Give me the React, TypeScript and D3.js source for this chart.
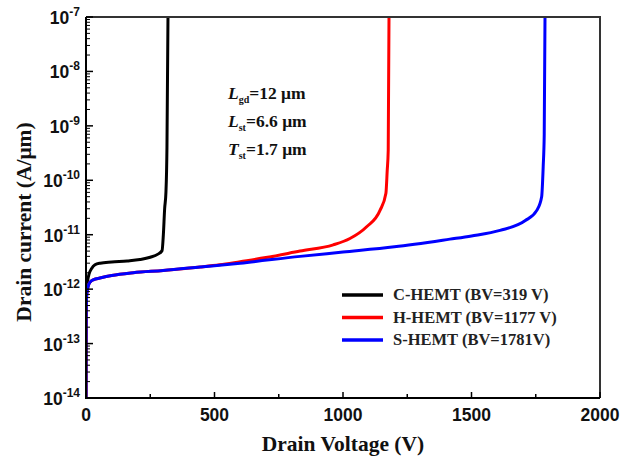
import React from "react";
import * as d3 from "d3";

const cV = [0, 0.6, 2, 6, 12, 22, 35, 55, 100, 160, 210, 250, 280, 296, 301, 306, 311, 315, 319];
const cI = [1e-14, 3e-13, 9e-13, 1.4e-12, 1.9e-12, 2.4e-12, 2.8e-12, 3.0e-12, 3.15e-12, 3.3e-12, 3.5e-12, 3.85e-12, 4.4e-12, 5.1e-12, 1e-11, 3e-11, 6e-11, 4e-10, 1e-7];

const hV = [0, 0.3, 1, 3, 8, 16, 30, 54, 100, 184, 300, 444, 520, 600, 700, 833, 962, 1027, 1092, 1144, 1167, 1172, 1176, 1179];
const hI = [1e-14, 1e-13, 4e-13, 8e-13, 1.1e-12, 1.35e-12, 1.5e-12, 1.6e-12, 1.78e-12, 2.0e-12, 2.2e-12, 2.55e-12, 2.8e-12, 3.2e-12, 3.8e-12, 5.0e-12, 6.5e-12, 8.5e-12, 1.4e-11, 2.8e-11, 5.8e-11, 1.5e-10, 3.6e-10, 1e-7];

const sV = [0, 0.3, 1, 3, 8, 16, 30, 54, 100, 184, 300, 444, 600, 833, 1000, 1200, 1416, 1500, 1611, 1708, 1754, 1773, 1779, 1783, 1786];
const sI = [1e-14, 1e-13, 4e-13, 8e-13, 1.1e-12, 1.35e-12, 1.5e-12, 1.6e-12, 1.78e-12, 2.0e-12, 2.2e-12, 2.55e-12, 3.0e-12, 4.0e-12, 4.8e-12, 6.0e-12, 8.3e-12, 9.5e-12, 1.2e-11, 1.8e-11, 2.8e-11, 5e-11, 1.8e-10, 7e-10, 1e-7];

const seriesNames = ["C-HEMT (BV=319 V)", "H-HEMT (BV=1177 V)", "S-HEMT (BV=1781V)"];
const seriesColors = ["#000000", "#ff0000", "#0000ff"];

const xTicks = [0, 500, 1000, 1500, 2000];
const xMinor = [250, 750, 1250, 1750];
const yExps = [-7, -8, -9, -10, -11, -12, -13, -14];

const W = 638, H = 462;
const L = 86, R = 600, T = 17, B = 398;

export default function App() {
  const x = d3.scaleLinear().domain([0, 2000]).range([L, R]);
  const y = d3.scaleLog().domain([1e-14, 1e-7]).range([B, T]);
  const line = d3
    .line<[number, number]>()
    .x((d) => x(d[0]))
    .y((d) => y(d[1]))
    .curve(d3.curveMonotoneX);

  const series = [
    cV.map((v, i) => [v, cI[i]] as [number, number]),
    hV.map((v, i) => [v, hI[i]] as [number, number]),
    sV.map((v, i) => [v, sI[i]] as [number, number]),
  ];

  const minorY: number[] = [];
  for (let e = -14; e < -7; e++) {
    for (let m = 2; m <= 9; m++) minorY.push(m * Math.pow(10, e));
  }

  const tickFont = "'Liberation Sans', Arial, sans-serif";
  const serif = "'Liberation Serif', 'Times New Roman', serif";

  return (
    <svg width={W} height={H} style={{ position: "absolute", left: 0, top: 0, background: "#fff" }}>
      <defs>
        <clipPath id="plot">
          <rect x={L} y={T} width={R - L} height={B - T} />
        </clipPath>
      </defs>
      <rect x={0} y={0} width={W} height={H} fill="#fff" />

      {/* curves */}
      <g clipPath="url(#plot)" fill="none" strokeWidth={3} strokeLinejoin="round">
        {series.map((s, i) => (
          <path key={i} d={line(s) || ""} stroke={seriesColors[i]} />
        ))}
      </g>

      {/* frame */}
      <path d={`M${L},${T}H${R}V${B}`} fill="none" stroke="#333" strokeWidth={2} />
      <path d={`M${L},${T}V${B}H${R}`} fill="none" stroke="#000" strokeWidth={2} />

      {/* y ticks */}
      {yExps.map((e) => (
        <line key={"ym" + e} x1={L} x2={L + 7} y1={y(Math.pow(10, e))} y2={y(Math.pow(10, e))} stroke="#000" strokeWidth={1.5} />
      ))}
      {minorY.map((v, i) => (
        <line key={"yn" + i} x1={L} x2={L + 4} y1={y(v)} y2={y(v)} stroke="#000" strokeWidth={1} />
      ))}
      {yExps.map((e) => (
        <text key={"yl" + e} x={80} y={y(Math.pow(10, e)) + 7} textAnchor="end" fontFamily={tickFont} fontWeight="bold" fontSize={17.5} fill="#111">
          <tspan>10</tspan>
          <tspan dy={-8} fontSize={12}>{e}</tspan>
        </text>
      ))}

      {/* x ticks */}
      {xTicks.map((v) => (
        <line key={"xm" + v} x1={x(v)} x2={x(v)} y1={B} y2={B - 6} stroke="#000" strokeWidth={1.5} />
      ))}
      {xMinor.map((v) => (
        <line key={"xn" + v} x1={x(v)} x2={x(v)} y1={B} y2={B - 4} stroke="#000" strokeWidth={1.5} />
      ))}
      {xTicks.map((v) => (
        <text key={"xl" + v} x={x(v)} y={421} textAnchor="middle" fontFamily={tickFont} fontWeight="bold" fontSize={17.5} fill="#111">
          {v}
        </text>
      ))}

      {/* axis titles */}
      <text x={343} y={451} textAnchor="middle" fontFamily={serif} fontWeight="bold" fontSize={21.5} fill="#111">
        Drain Voltage (V)
      </text>
      <text transform={`translate(31,222) rotate(-90)`} textAnchor="middle" fontFamily={serif} fontWeight="bold" fontSize={21.5} fill="#111">
        Drain current (A/μm)
      </text>

      {/* annotation */}
      <g fontFamily={serif} fontWeight="bold" fontSize={17.5} fill="#111">
        <text x={228} y={99}>
          <tspan fontStyle="italic">L</tspan>
          <tspan fontSize={10} dy={4}>gd</tspan>
          <tspan dy={-4}>=12 μm</tspan>
        </text>
        <text x={228} y={127}>
          <tspan fontStyle="italic">L</tspan>
          <tspan fontSize={10} dy={4}>st</tspan>
          <tspan dy={-4}>=6.6 μm</tspan>
        </text>
        <text x={228} y={155}>
          <tspan fontStyle="italic">T</tspan>
          <tspan fontSize={10} dy={4}>st</tspan>
          <tspan dy={-4}>=1.7 μm</tspan>
        </text>
      </g>

      {/* legend */}
      {seriesNames.map((n, i) => (
        <g key={n}>
          <line x1={342} x2={383} y1={295 + i * 22.5} y2={295 + i * 22.5} stroke={seriesColors[i]} strokeWidth={3.5} />
          <text x={393} y={300 + i * 22.5} fontFamily={serif} fontWeight="bold" fontSize={16.5} fill="#222">
            {n}
          </text>
        </g>
      ))}
    </svg>
  );
}
